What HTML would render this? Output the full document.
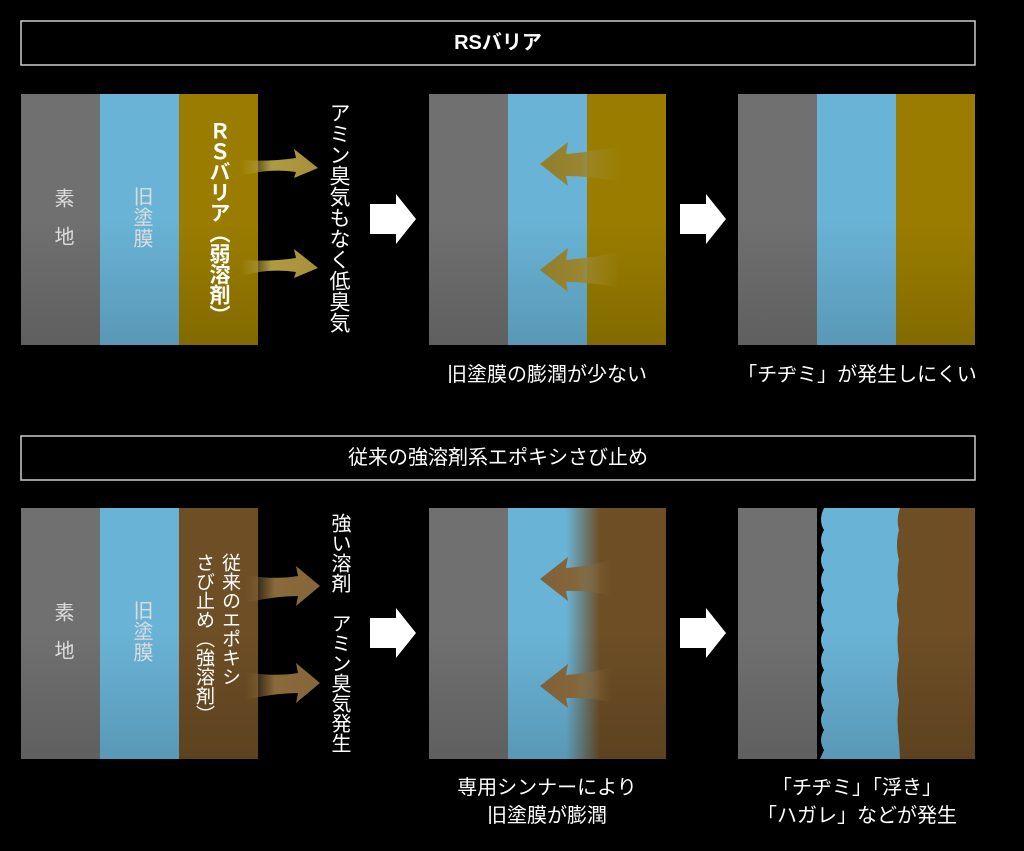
<!DOCTYPE html>
<html><head><meta charset="utf-8"><style>
body{margin:0;background:#000;width:1024px;height:851px;overflow:hidden;position:relative;font-family:"Liberation Sans","Noto Sans CJK JP",sans-serif;color:#fff}
.v{position:absolute;writing-mode:vertical-rl;text-orientation:upright;white-space:nowrap;color:#fff;font-family:"Noto Sans CJK JP",sans-serif}
.c{position:absolute;text-align:center;font-size:20px;color:#fff;line-height:28px}
</style></head><body>
<svg width="1024" height="851" style="position:absolute;left:0;top:0">
<defs>
<linearGradient id="sh" x1="0" y1="0" x2="0" y2="1"><stop offset="0.5" stop-color="#000" stop-opacity="0"/><stop offset="1" stop-color="#000" stop-opacity="0.15"/></linearGradient>
<linearGradient id="ga" x1="0" x2="1"><stop offset="0" stop-color="#b8a040" stop-opacity="0"/><stop offset="0.4" stop-color="#b09a40"/><stop offset="1" stop-color="#a8903a"/></linearGradient>
<linearGradient id="gl" x1="1" x2="0"><stop offset="0" stop-color="#a08a2a" stop-opacity="0"/><stop offset="0.5" stop-color="#9a8530"/><stop offset="1" stop-color="#8f7e2c"/></linearGradient>
<linearGradient id="ba" x1="0" x2="1"><stop offset="0" stop-color="#8a6a3a" stop-opacity="0"/><stop offset="0.4" stop-color="#8a6a3a"/><stop offset="1" stop-color="#86663a"/></linearGradient>
<linearGradient id="bl" x1="1" x2="0"><stop offset="0" stop-color="#8a6a3a" stop-opacity="0"/><stop offset="0.5" stop-color="#85663a"/><stop offset="1" stop-color="#80603a"/></linearGradient>
<linearGradient id="blur" x1="0" x2="1"><stop offset="0" stop-color="#69b3d6"/><stop offset="1" stop-color="#6d4e25"/></linearGradient>
</defs>
<rect x="21" y="21" width="954" height="44" fill="none" stroke="#ccc" stroke-width="1.5"/>
<rect x="21" y="436" width="954" height="44" fill="none" stroke="#ccc" stroke-width="1.5"/>
<g>
<rect x="21" y="94" width="79" height="251" fill="#717070"/><rect x="100" y="94" width="79" height="251" fill="#69b3d6"/><rect x="179" y="94" width="79" height="251" fill="#9a7d00"/><rect x="21" y="94" width="237" height="251" fill="url(#sh)"/>
<rect x="429" y="94" width="79" height="251" fill="#717070"/><rect x="508" y="94" width="79" height="251" fill="#69b3d6"/><rect x="587" y="94" width="79" height="251" fill="#9a7d00"/><rect x="429" y="94" width="237" height="251" fill="url(#sh)"/>
<rect x="738" y="94" width="79" height="251" fill="#717070"/><rect x="817" y="94" width="79" height="251" fill="#69b3d6"/><rect x="896" y="94" width="79" height="251" fill="#9a7d00"/><rect x="738" y="94" width="237" height="251" fill="url(#sh)"/>
</g>
<g>
<rect x="21" y="508" width="79" height="251" fill="#717070"/><rect x="100" y="508" width="79" height="251" fill="#69b3d6"/><rect x="179" y="508" width="79" height="251" fill="#6d4e25"/><rect x="21" y="508" width="237" height="251" fill="url(#sh)"/>
<rect x="429" y="508" width="79" height="251" fill="#717070"/><rect x="508" y="508" width="158" height="251" fill="#69b3d6"/><rect x="566" y="508" width="34" height="251" fill="url(#blur)"/><rect x="600" y="508" width="66" height="251" fill="#6d4e25"/><rect x="429" y="508" width="237" height="251" fill="url(#sh)"/>
<rect x="738" y="508" width="79" height="251" fill="#717070"/><rect x="817" y="508" width="158" height="251" fill="#69b3d6"/><rect x="900" y="508" width="75" height="251" fill="#6d4e25"/>
<path d="M817 508 L824 508 Q818 520 824 530 Q818 540 824 550 Q818 560 824 570 Q818 580 824 590 Q818 600 824 610 Q818 620 824 630 Q818 640 824 650 Q818 660 824 670 Q818 680 824 690 Q818 700 824 710 Q818 720 824 730 Q818 740 824 750 L820 759 L817 759Z" fill="#000"/>
<path d="M900 508 Q896 520 899 530 Q895 545 899 560 Q896 575 899 590 Q895 605 899 620 Q896 640 899 660 Q895 680 899 700 Q896 720 899 740 L900 759 L903 759 L903 508Z" fill="#6d4e25"/>
<rect x="738" y="508" width="237" height="251" fill="url(#sh)"/>
</g>
<g fill="url(#ga)">
<path d="M240 160 Q270 162 296 158 L294 149 L318 168 L294 178 L296 172 Q270 168 240 176Z"/>
<path d="M240 260 Q270 262 296 258 L294 249 L318 268 L294 278 L296 272 Q270 268 240 276Z"/>
</g>
<g fill="url(#ba)">
<path d="M245 575 Q275 580 298 576 L296 566 L320 586 L296 606 L298 596 Q275 596 245 603Z"/>
<path d="M245 672 Q275 677 298 673 L296 663 L320 683 L296 703 L298 693 Q275 693 245 700Z"/>
</g>
<g fill="url(#gl)">
<path d="M620 146 Q590 152 566 154 L568 142 L540 164 L568 186 L566 176 Q590 176 620 182Z"/>
<path d="M620 252 Q590 258 566 260 L568 248 L540 270 L568 292 L566 282 Q590 282 620 288Z"/>
</g>
<g fill="url(#bl)">
<path d="M612 560 Q590 566 566 568 L568 557 L540 579 L568 601 L566 591 Q590 590 612 596Z"/>
<path d="M612 667 Q590 673 566 675 L568 664 L540 686 L568 708 L566 698 Q590 697 612 703Z"/>
</g>
<g fill="#fff">
<path d="M370 204 L396 204 L396 194 L416 219 L396 244 L396 234 L370 234Z"/>
<path d="M680 204 L706 204 L706 194 L726 219 L706 244 L706 234 L680 234Z"/>
<path d="M370 618 L396 618 L396 608 L416 633 L396 658 L396 648 L370 648Z"/>
<path d="M680 618 L706 618 L706 608 L726 633 L706 658 L706 648 L680 648Z"/>
</g>
</svg>
<div class="c" style="left:21px;width:954px;top:29px;font-size:20px;font-weight:bold">RSバリア</div>
<div class="c" style="left:21px;width:954px;top:444px;font-size:20px">従来の強溶剤系エポキシさび止め</div>

<div class="v" style="left:50px;top:188px;font-size:20px;color:#ddd;letter-spacing:18px">素地</div>
<div class="v" style="left:129px;top:186px;font-size:20px;color:#ddd;letter-spacing:1px">旧塗膜</div>
<div class="v" style="left:208px;top:120px;font-size:21px;font-weight:bold;line-height:24px;letter-spacing:-0.5px">ＲＳバリア（弱溶剤）</div>
<div class="v" style="left:329px;top:102px;font-size:21px;line-height:22px">アミン臭気もなく低臭気</div>

<div class="v" style="left:50px;top:602px;font-size:20px;color:#ddd;letter-spacing:18px">素地</div>
<div class="v" style="left:129px;top:600px;font-size:20px;color:#ddd;letter-spacing:1px">旧塗膜</div>
<div class="v" style="left:192px;top:553px;font-size:19px;line-height:26px">従来のエポキシ<br>さび止め（強溶剤）</div>
<div class="v" style="left:330px;top:513px;font-size:20px;line-height:22px">強い溶剤&#12288;アミン臭気発生</div>

<div class="c" style="left:400px;width:294px;top:361px">旧塗膜の膨潤が少ない</div>
<div class="c" style="left:710px;width:294px;top:361px">「チヂミ」が発生しにくい</div>
<div class="c" style="left:400px;width:294px;top:774px">専用シンナーにより<br>旧塗膜が膨潤</div>
<div class="c" style="left:710px;width:294px;top:774px">「チヂミ」「浮き」<br>「ハガレ」などが発生</div>
</body></html>
